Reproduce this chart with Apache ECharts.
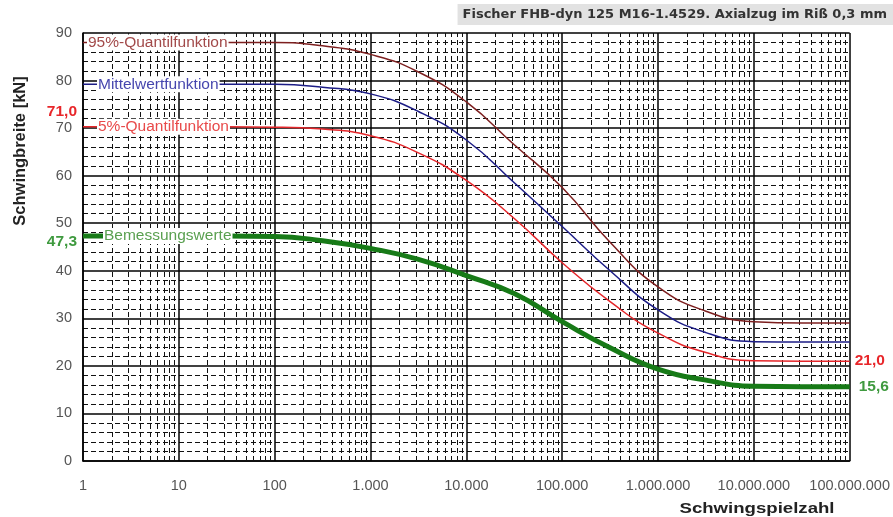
<!DOCTYPE html>
<html lang="de">
  <head>
    <meta charset="UTF-8" />
    <title>Schwingbreite</title>
    <style>
      * {
        margin: 0;
        padding: 0;
      }
      body {
        background: #fff;
      }
      #chart {
        width: 893px;
        height: 517px;
      }
    </style>
    <script src="https://cdn.jsdelivr.net/npm/echarts@6/dist/echarts.min.js"></script>
  </head>
  <body>
    <div id="chart"></div>
    <script>
      // Schwingspielzahl (x)
      const cycles = [
        1, 10, 100, 316, 1000, 3162, 10000, 31623, 100000, 316228, 1000000,
        3162278, 10000000, 31622777, 100000000,
      ];
      // Schwingbreite [kN]
      const q95 = [88, 88, 88, 87.3, 85.5, 81.8, 75.5, 66.5, 57.5, 46, 36.6, 31.5, 29.3, 29, 29];
      const mean = [79.2, 79.2, 79.2, 78.6, 77.2, 73.5, 67.5, 58.5, 49.3, 40, 31.8, 27, 25.1, 25, 25];
      const q5 = [70.3, 70.3, 70.2, 69.8, 68.4, 64.8, 59, 51, 41.7, 33.5, 26.9, 22.8, 21.1, 21, 21];
      const design = [47.3, 47.3, 47.2, 46.3, 44.7, 42.4, 39, 35.2, 29.3, 23.8, 19.3, 17, 15.7, 15.6, 15.6];

      const seriesNames = ["95%-Quantilfunktion", "Mittelwertfunktion", "5%-Quantilfunktion", "Bemessungswerte"];
      const yTicks = [0, 10, 20, 30, 40, 50, 60, 70, 80, 90];
      const minorDecades = [2, 3, 4, 5, 6, 7, 8, 9];

      const FONT = "Liberation Sans, Arial, sans-serif";
      const pairs = (ys) => cycles.map((c, i) => [c, ys[i]]);
      const fmt = (v) => String(Math.round(v)).replace(/\B(?=(\d{3})+(?!\d))/g, ".");

      // dashed vertical minor grid at 2..9 of each decade
      const minorX = [];
      for (let e = 0; e < 8; e++) {
        minorDecades.forEach((m) => minorX.push({ xAxis: m * Math.pow(10, e) }));
      }

      const chart = echarts.init(document.getElementById("chart"));

      function lineLabel(text, color, dist) {
        return {
          show: true,
          position: "right",
          distance: dist,
          formatter: text,
          color: color,
          fontSize: 15.5,
          fontFamily: FONT,
          backgroundColor: "#fff",
          padding: [0, 1],
        };
      }
      function valueLabel(text, color, pos, dist, off) {
        return {
          show: true,
          position: pos,
          distance: dist,
          offset: off,
          formatter: text,
          color: color,
          fontSize: 15.5,
          fontWeight: "bold",
          fontFamily: FONT,
        };
      }
      function curve(name, ys, color, width) {
        return {
          name: name,
          type: "line",
          data: pairs(ys),
          smooth: 0.5,
          showSymbol: false,
          z: 5,
          lineStyle: { color: color, width: width },
        };
      }

      const s95 = curve(seriesNames[0], q95, "#7d1f1f", 1.5);
      s95.markPoint = {
        z: 20,
        symbolSize: 0,
        data: [{ coord: [1, q95[0]], label: lineLabel(seriesNames[0], "#a24a4a", 4) }],
      };
      const sMean = curve(seriesNames[1], mean, "#1c1c86", 1.5);
      sMean.markPoint = {
        z: 20,
        symbolSize: 0,
        data: [{ coord: [1, mean[0]], label: lineLabel(seriesNames[1], "#4646ae", 14) }],
      };
      const s5 = curve(seriesNames[2], q5, "#e5262a", 1.5);
      s5.markPoint = {
        z: 20,
        symbolSize: 0,
        data: [
          { coord: [1, q5[0]], label: lineLabel(seriesNames[2], "#e84a4a", 14) },
          { coord: [1, q5[0]], label: valueLabel("71,0", "#e8262a", "left", 6, [0, -15]) },
          { coord: [100000000, q5[q5.length - 1]], label: valueLabel("21,0", "#e8262a", "right", 5, [0, 0]) },
        ],
      };
      const sDesign = curve(seriesNames[3], design, "#177a17", 5);
      sDesign.markPoint = {
        z: 20,
        symbolSize: 0,
        data: [
          { coord: [1, design[0]], label: lineLabel(seriesNames[3], "#5aa050", 20) },
          { coord: [1, design[0]], label: valueLabel("47,3", "#3f9a3f", "left", 6, [0, 6]) },
          { coord: [100000000, design[design.length - 1]], label: valueLabel("15,6", "#3f9a3f", "right", 9, [0, 0]) },
        ],
      };

      const option = {
        animation: false,
        backgroundColor: "#fff",
        title: {
          text: "Fischer FHB-dyn 125 M16-1.4529. Axialzug im Riß 0,3 mm",
          right: 0,
          top: 4,
          backgroundColor: "#e2e2e2",
          padding: [4, 6, 4, 5],
          textStyle: {
            fontSize: 13,
            fontWeight: "bold",
            color: "#333",
            fontFamily: "DejaVu Sans, sans-serif",
          },
        },
        grid: { left: 83, right: 40, top: 33, bottom: 56 },
        xAxis: {
          type: "log",
          logBase: 10,
          min: 1,
          max: 100000000,
          interval: 1,
          axisLine: { lineStyle: { color: "#000", width: 1.5 } },
          axisTick: { show: false },
          axisLabel: {
            margin: 17,
            color: "#555",
            fontSize: 14.5,
            fontFamily: FONT,
            formatter: fmt,
          },
          splitLine: { show: true, lineStyle: { color: "#000", width: 1.5 } },
        },
        yAxis: {
          type: "value",
          min: 0,
          max: 90,
          interval: 10,
          axisLine: { show: true, lineStyle: { color: "#000", width: 1.5 } },
          axisTick: { show: false },
          axisLabel: {
            margin: 11,
            color: "#555",
            fontSize: 14.5,
            fontFamily: FONT,
            formatter: (v) => (yTicks.includes(v) ? String(v) : ""),
          },
          splitLine: { show: true, lineStyle: { color: "#000", width: 1.5 } },
          minorTick: { show: false, splitNumber: 5 },
          minorSplitLine: {
            show: true,
            lineStyle: { color: "#111", width: 1, type: [5, 3] },
          },
        },
        graphic: [
          {
            type: "text",
            x: 20,
            y: 151,
            rotation: Math.PI / 2,
            style: {
              text: "Schwingbreite [kN]",
              align: "center",
              verticalAlign: "middle",
              fontSize: 16.5,
              fontWeight: "bold",
              fill: "#222",
              fontFamily: FONT,
            },
          },
          {
            type: "text",
            x: 757,
            y: 509,
            scaleX: 1.2,
            style: {
              text: "Schwingspielzahl",
              align: "center",
              verticalAlign: "middle",
              fontSize: 15.5,
              fontWeight: "bold",
              fill: "#222",
              fontFamily: FONT,
            },
          },
        ],
        series: [
          {
            name: "grid",
            type: "line",
            data: [],
            silent: true,
            z: 1,
            markLine: {
              z: 1,
              silent: true,
              symbol: "none",
              label: { show: false },
              lineStyle: { color: "#111", width: 1, type: [5, 3] },
              data: minorX,
            },
          },
          s95,
          sMean,
          s5,
          sDesign,
        ],
      };

      chart.setOption(option);
    </script>
  </body>
</html>
